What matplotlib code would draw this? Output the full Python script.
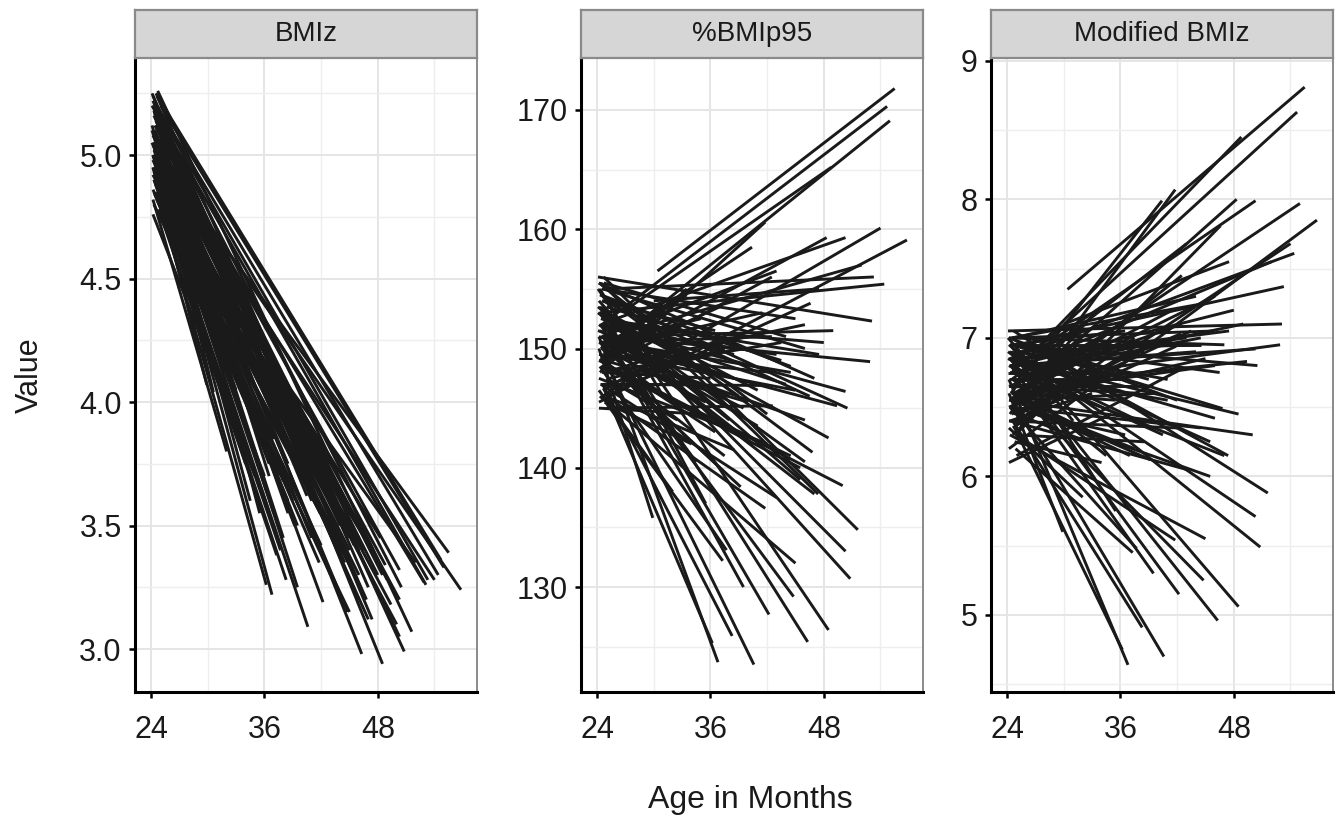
import matplotlib
matplotlib.use("Agg")
import matplotlib.pyplot as plt
from matplotlib.ticker import MultipleLocator, FormatStrFormatter

plt.rcParams['font.family'] = ['Liberation Sans', 'DejaVu Sans']

# one segment per child: first and last visit
age_start = [30.4, 24.5, 25.0, 27.5, 24.3, 24.6, 24.4, 26.0, 24.2, 24.5,
             25.2, 24.3, 24.9, 24.1, 24.7, 25.5, 24.2, 24.6, 24.4, 25.0,
             24.3, 24.5, 24.2, 24.8, 24.4, 24.6, 25.0, 24.2, 24.7, 24.3,
             24.5, 24.9, 24.2, 25.3, 24.4, 24.1, 24.6, 24.3, 24.8, 24.2,
             24.5, 24.4, 24.9, 24.3, 24.6, 24.2, 25.0, 24.4, 24.8, 24.1,
             24.5, 26.5, 24.3, 24.7, 25.2, 24.2, 24.9, 24.4, 27.0, 24.6,
             24.3, 28.5, 24.5, 25.5, 24.2, 24.8, 29.5, 30.0, 28.0, 27.5,
             24.3, 24.7, 24.1, 25.4, 24.5, 24.2, 24.8, 24.4, 24.6, 26.0,
             24.3, 24.9, 24.2, 25.1, 24.4, 24.6, 28.5, 24.2, 24.9, 24.5,
             24.3, 24.6, 24.2, 24.8, 24.4, 24.5, 24.1, 25.0, 24.3, 24.7,
             24.2, 24.6, 24.4, 25.3, 24.2, 24.8, 24.5, 24.3, 24.9, 24.4,
             26.5, 24.6, 24.2, 24.7, 25.0]
age_end = [55.5, 54.7, 55.0, 48.8, 41.8, 54.0, 48.3, 50.3, 56.8, 43.0,
           53.3, 54.4, 46.6, 53.1, 44.0, 52.9, 42.4, 41.9, 50.3, 42.6,
           49.4, 46.8, 46.0, 39.2, 47.4, 47.0, 41.8, 29.9, 51.6, 37.7,
           50.3, 37.3, 50.8, 44.8, 42.2, 48.5, 38.3, 46.3, 36.2, 36.8,
           40.6, 40.4, 45.5, 31.5, 33.0, 30.6, 32.5, 35.0, 34.0, 29.0,
           36.0, 33.5, 31.0, 35.5, 37.5, 32.0, 30.0, 38.5, 36.5, 34.5,
           33.0, 39.0, 36.5, 39.5, 35.0, 37.0, 44.5, 47.5, 46.0, 52.0,
           41.0, 43.5, 38.0, 45.0, 32.0, 42.0, 48.0, 44.5, 37.0, 34.0,
           45.0, 39.5, 50.0, 35.5, 43.0, 33.5, 42.5, 47.0, 38.5, 46.0,
           44.0, 46.5, 42.5, 40.0, 48.5, 45.0, 38.5, 43.5, 50.5, 41.5,
           36.5, 47.5, 44.5, 39.0, 42.0, 49.0, 37.5, 45.5, 33.0, 40.5,
           43.0, 46.0, 38.0, 35.0, 41.0]

bmiz_start = [4.70, 5.25, 5.20, 4.85, 4.90, 5.00, 4.92, 5.00, 5.05, 5.00,
              5.15, 5.22, 4.80, 5.20, 5.18, 5.00, 4.92, 4.85, 5.05, 4.78,
              4.98, 5.14, 5.08, 4.92, 5.22, 5.03, 4.82, 4.95, 5.26, 4.90,
              5.12, 4.78, 5.20, 4.95, 5.05, 5.25, 4.85, 5.10, 4.82, 5.00,
              4.93, 4.95, 4.90, 4.92, 4.82, 5.05, 4.86, 4.97, 4.78, 5.12,
              4.88, 4.80, 5.18, 4.95, 4.84, 4.82, 4.94, 5.08, 4.70, 5.00,
              4.85, 4.55, 5.15, 4.85, 4.76, 4.92, 4.45, 4.55, 4.55, 4.65,
              5.02, 4.88, 5.10, 4.90, 4.96, 4.86, 5.06, 5.16, 4.92, 4.85,
              4.80, 4.98, 4.95, 5.06, 4.84, 4.90, 4.60, 5.24, 4.80, 4.96,
              5.10, 5.18, 5.00, 4.95, 5.12, 5.15, 5.05, 5.08, 5.20, 5.00,
              4.98, 5.14, 5.06, 4.92, 5.22, 5.02, 4.90, 5.16, 4.88, 5.10,
              4.85, 5.24, 5.00, 4.95, 5.12]
bmiz_end = [3.39, 3.36, 3.33, 3.34, 3.80, 3.28, 3.45, 3.32, 3.24, 3.75,
            3.28, 3.30, 3.45, 3.26, 3.55, 3.27, 3.55, 3.55, 3.20, 3.50,
            3.18, 3.20, 3.20, 3.50, 3.12, 3.12, 3.35, 4.07, 3.07, 3.40,
            3.05, 3.38, 2.99, 3.15, 3.19, 2.94, 3.28, 2.98, 3.26, 3.22,
            3.09, 3.85, 3.30, 4.35, 4.10, 4.04, 3.95, 3.95, 3.75, 4.50,
            3.70, 4.25, 4.20, 3.65, 3.70, 3.80, 4.50, 3.55, 3.75, 3.60,
            4.05, 3.60, 3.70, 3.50, 3.70, 3.55, 3.40, 3.40, 3.45, 3.35,
            3.45, 3.55, 3.45, 3.40, 4.15, 3.42, 3.30, 3.35, 3.85, 4.20,
            3.15, 3.25, 3.10, 3.55, 3.30, 4.30, 3.80, 3.25, 3.60, 3.30,
            3.50, 3.40, 3.65, 3.70, 3.30, 3.45, 3.75, 3.60, 3.25, 3.70,
            3.85, 3.38, 3.48, 3.80, 3.55, 3.28, 3.75, 3.42, 4.25, 3.62,
            3.60, 3.40, 3.68, 3.95, 3.60]

pct_start = [156.5, 152.0, 150.0, 153.5, 148.0, 146.5, 149.0, 152.5, 145.5, 151.0,
             155.0, 153.0, 146.0, 156.0, 155.5, 151.0, 149.5, 147.0, 152.0, 145.0,
             150.5, 154.5, 153.0, 149.0, 155.5, 151.5, 146.0, 150.0, 156.0, 148.5,
             153.5, 145.5, 154.0, 150.0, 152.0, 155.0, 147.0, 153.0, 146.5, 151.0,
             149.5, 150.0, 148.5, 149.0, 146.0, 152.0, 147.5, 150.5, 145.5, 153.5,
             148.0, 151.0, 155.0, 150.0, 147.0, 146.5, 149.5, 152.5, 148.0, 151.0,
             147.0, 152.0, 154.0, 150.5, 145.0, 149.0, 150.0, 154.0, 149.0, 151.5,
             151.5, 148.0, 153.0, 149.5, 150.0, 147.5, 152.0, 154.5, 149.0, 150.5,
             146.0, 151.0, 149.0, 152.5, 147.0, 148.5, 150.0, 155.5, 146.0, 150.0,
             152.0, 154.0, 150.5, 149.0, 153.0, 155.0, 151.5, 153.5, 154.5, 150.0,
             151.0, 152.5, 148.5, 147.5, 155.5, 151.0, 149.0, 153.5, 148.0, 152.0,
             151.5, 155.0, 150.5, 149.5, 153.0]
pct_end = [171.8, 170.3, 169.1, 165.2, 160.6, 160.1, 159.3, 159.3, 159.1, 156.5,
           156.0, 155.4, 153.8, 152.3, 151.0, 148.9, 148.0, 146.9, 146.4, 145.2,
           145.2, 141.3, 140.5, 138.4, 137.8, 137.8, 136.6, 135.8, 134.8, 133.1,
           133.0, 132.2, 130.7, 129.2, 127.7, 126.4, 125.9, 125.4, 125.3, 123.7,
           123.5, 158.5, 140.0, 153.0, 150.5, 148.5, 144.0, 152.5, 142.0, 150.0,
           147.5, 154.5, 146.0, 145.5, 150.0, 138.0, 152.0, 149.5, 143.0, 140.5,
           147.0, 146.0, 151.5, 145.0, 144.5, 140.0, 148.0, 155.0, 152.0, 157.0,
           143.5, 150.5, 144.0, 146.5, 145.5, 142.0, 150.5, 148.5, 153.5, 149.0,
           132.0, 130.0, 138.5, 137.0, 137.5, 155.0, 156.0, 147.5, 141.5, 144.0,
           147.0, 146.0, 151.0, 145.5, 142.5, 152.5, 147.5, 149.0, 145.0, 153.0,
           148.0, 149.5, 141.0, 150.0, 144.5, 151.5, 141.0, 139.0, 150.0, 142.0,
           149.5, 150.0, 146.0, 148.5, 146.5]

mod_start = [7.35, 6.75, 6.60, 6.95, 6.45, 6.35, 6.55, 6.85, 6.20, 6.70,
             6.95, 6.85, 6.30, 7.05, 7.00, 6.70, 6.50, 6.40, 6.80, 6.15,
             6.65, 6.95, 6.85, 6.55, 7.00, 6.75, 6.30, 6.60, 7.05, 6.50,
             6.90, 6.20, 6.95, 6.60, 6.80, 7.00, 6.40, 6.85, 6.35, 6.70,
             6.55, 6.60, 6.50, 6.55, 6.30, 6.80, 6.45, 6.65, 6.25, 6.90,
             6.45, 6.70, 6.95, 6.60, 6.40, 6.35, 6.55, 6.85, 6.45, 6.70,
             6.40, 6.90, 6.95, 6.65, 6.10, 6.55, 6.80, 7.10, 6.70, 6.85,
             6.75, 6.45, 6.85, 6.55, 6.60, 6.40, 6.80, 6.95, 6.55, 6.60,
             6.30, 6.70, 6.55, 6.85, 6.40, 6.50, 6.70, 7.00, 6.30, 6.60,
             6.80, 6.95, 6.65, 6.55, 6.85, 7.00, 6.75, 6.90, 6.95, 6.60,
             6.70, 6.85, 6.50, 6.45, 7.00, 6.75, 6.55, 6.90, 6.45, 6.80,
             6.85, 7.00, 6.65, 6.55, 6.90]
mod_end = [8.81, 8.63, 7.97, 8.45, 8.07, 7.68, 8.00, 7.99, 7.85, 7.68,
           7.37, 7.61, 7.81, 7.10, 7.30, 6.95, 7.03, 6.94, 6.92, 6.78,
           6.83, 6.49, 6.42, 6.12, 6.15, 6.15, 5.54, 5.60, 5.88, 5.48,
           5.71, 5.45, 5.49, 5.25, 5.15, 5.06, 4.91, 4.96, 4.75, 4.64,
           4.70, 7.99, 6.00, 6.95, 6.85, 6.55, 6.25, 7.05, 6.10, 6.65,
           6.80, 7.10, 6.40, 6.55, 7.00, 5.85, 6.85, 6.90, 6.30, 6.15,
           6.60, 6.70, 7.05, 6.65, 6.45, 6.15, 7.00, 7.55, 7.30, 7.55,
           6.55, 7.05, 6.40, 6.85, 6.35, 6.35, 7.20, 6.95, 7.15, 6.70,
           5.55, 5.30, 6.30, 5.75, 6.05, 7.20, 7.45, 6.95, 6.25, 6.80,
           6.90, 6.75, 7.10, 6.60, 6.45, 7.25, 6.75, 6.95, 6.80, 7.20,
           6.70, 7.05, 6.35, 6.95, 6.55, 7.10, 6.20, 6.25, 6.80, 6.30,
           7.00, 7.05, 6.60, 6.75, 6.70]

panel_titles = ['BMIz', '%BMIp95', 'Modified BMIz']
panel_data = [(bmiz_start, bmiz_end), (pct_start, pct_end), (mod_start, mod_end)]
y_limits = [(2.826, 5.393), (121.2, 174.36), (4.444, 9.02)]
y_major = [0.5, 10, 1]
x_ticks = [24, 36, 48]

fig = plt.figure(figsize=(13.42, 8.21), dpi=100)
W, H = 1342.0, 821.0
lefts = [135, 581, 991]
panel_w = 342
top, bottom = 58, 692
strip_top = 10

for i in range(3):
    ax = fig.add_axes([lefts[i] / W, (H - bottom) / H, panel_w / W, (bottom - top) / H])
    v0, v1 = panel_data[i]
    for k in range(len(age_start)):
        ax.plot([age_start[k], age_end[k]], [v0[k], v1[k]],
                color='#1a1a1a', lw=2.1, solid_capstyle='butt')
    ax.set_xlim(22.3, 58.5)
    ax.set_ylim(*y_limits[i])
    ax.set_xticks(x_ticks)
    ax.xaxis.set_minor_locator(MultipleLocator(6))
    ax.yaxis.set_major_locator(MultipleLocator(y_major[i]))
    ax.yaxis.set_minor_locator(MultipleLocator(y_major[i] / 2))
    if i == 0:
        ax.yaxis.set_major_formatter(FormatStrFormatter('%.1f'))
    ax.grid(True, which='major', color='#e5e5e5', lw=1.4)
    ax.grid(True, which='minor', color='#eeeeee', lw=1.0)
    ax.set_axisbelow(True)
    ax.tick_params(which='minor', length=0)
    ax.tick_params(which='major', direction='out', length=4.5, width=1.8,
                   color='black', labelsize=22, labelcolor='#1a1a1a')
    ax.tick_params(axis='x', pad=12)
    ax.tick_params(axis='y', pad=5)
    ax.spines['left'].set_color('black')
    ax.spines['bottom'].set_color('black')
    ax.spines['left'].set_linewidth(2.2)
    ax.spines['bottom'].set_linewidth(2.2)
    ax.spines['top'].set_color('#8a8a8a')
    ax.spines['right'].set_color('#8a8a8a')
    ax.spines['top'].set_linewidth(1.4)
    ax.spines['right'].set_linewidth(1.4)

    sax = fig.add_axes([lefts[i] / W, (H - top) / H, panel_w / W, (top - strip_top) / H])
    sax.set_facecolor('#d6d6d6')
    sax.set_xticks([])
    sax.set_yticks([])
    for s in sax.spines.values():
        s.set_color('#8a8a8a')
        s.set_linewidth(1.6)
    sax.text(0.5, 0.5, panel_titles[i], ha='center', va='center',
             fontsize=20, color='#1a1a1a', transform=sax.transAxes)

fig.text(30 / W, 1 - 375 / H, 'Value', rotation=90, ha='center', va='center',
         fontsize=22, color='#1a1a1a')
fig.text(750 / W, 1 - 800 / H, 'Age in Months', ha='center', va='center',
         fontsize=23, color='#1a1a1a')

fig.savefig('out.png', dpi=100)
